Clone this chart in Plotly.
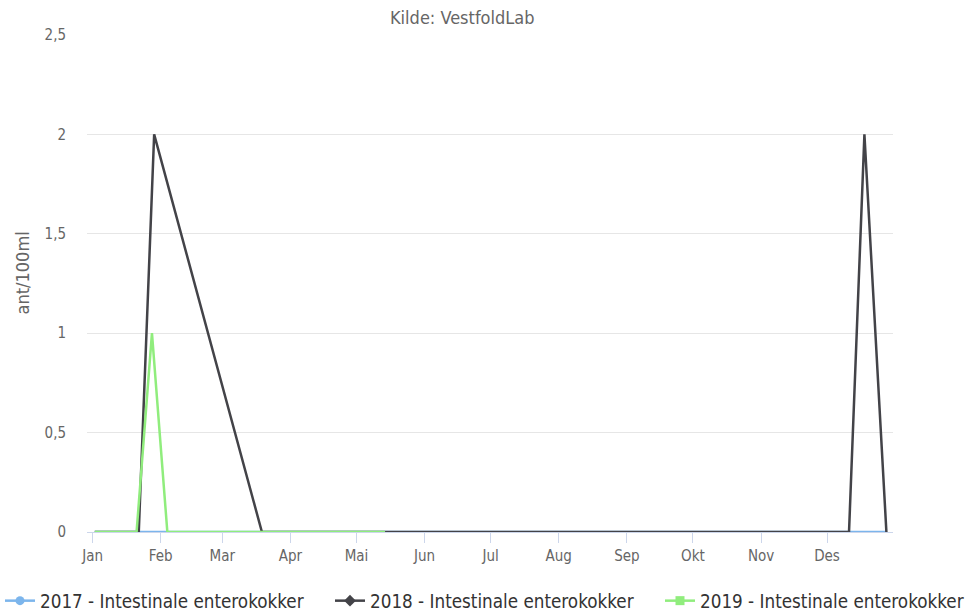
import plotly.graph_objects as go

# ---- data (all years plotted on a common calendar year) ----
dates_2017 = ["2018-01-02", "2018-12-28"]
vals_2017 = [0, 0]

dates_2018 = ["2018-01-02", "2018-01-22", "2018-01-29", "2018-03-19",
              "2018-12-11", "2018-12-18", "2018-12-28"]
vals_2018 = [0, 0, 2, 0, 0, 2, 0]

dates_2019 = ["2018-01-02", "2018-01-21", "2018-01-28", "2018-02-04", "2018-05-14"]
vals_2019 = [0, 0, 1, 0, 0]

series_names = ["2017 - Intestinale enterokokker",
                "2018 - Intestinale enterokokker",
                "2019 - Intestinale enterokokker"]
month_ticks = ["2018-%02d-01" % m for m in range(1, 13)]
month_labels = ["Jan", "Feb", "Mar", "Apr", "Mai", "Jun",
                "Jul", "Aug", "Sep", "Okt", "Nov", "Des"]
y_ticks = [0, 0.5, 1, 1.5, 2, 2.5]

colors = ["#7cb5ec", "#434348", "#90ed7d"]
symbols = ["circle", "diamond", "square"]
FONT = "DejaVu Sans Condensed, DejaVu Sans, sans-serif"

W, H = 971, 615
L, R, T, B = 87, 78, 35, 83
pw, ph = W - L - R, H - T - B

def px_x(p):
    return (p - L) / pw

def px_y(p):
    return (H - B - p) / ph

fig = go.Figure()
data = [(dates_2017, vals_2017), (dates_2018, vals_2018), (dates_2019, vals_2019)]
legends = ["legend", "legend2", "legend3"]
for i, (xs, ys) in enumerate(data):
    fig.add_trace(go.Scatter(
        x=xs, y=ys, mode="lines", name=series_names[i],
        line=dict(color=colors[i], width=2.5),
        legendgroup=series_names[i], showlegend=False,
        hoverinfo="x+y+name"))
for i in range(3):
    fig.add_trace(go.Scatter(
        x=[None], y=[None], mode="lines+markers", name=series_names[i],
        line=dict(color=colors[i], width=2.5),
        marker=dict(color=colors[i], symbol=symbols[i], size=9),
        legendgroup=series_names[i], showlegend=True, legend=legends[i]))

leg_common = dict(orientation="h", xanchor="left", yanchor="middle",
                  xref="container", yref="container",
                  y=1 - 601 / H, bgcolor="rgba(0,0,0,0)",
                  font=dict(family=FONT, size=18.7, color="#333333"))
fig.update_layout(
    width=W, height=H,
    margin=dict(l=L, r=R, t=T, b=B, autoexpand=False),
    paper_bgcolor="white", plot_bgcolor="white",
    separators=", ",
    font=dict(family=FONT, color="#666666"),
    legend=dict(x=0 / W, **leg_common),
    legend2=dict(x=330 / W, **leg_common),
    legend3=dict(x=660 / W, **leg_common),
    xaxis=dict(
        type="date", range=["2017-12-29 11:00", "2018-12-31"],
        tickvals=month_ticks, ticktext=month_labels,
        ticks="outside", ticklen=10, tickcolor="#ccd6eb", tickwidth=1,
        showline=True, linecolor="#ccd6eb", linewidth=1,
        showgrid=False, zeroline=False,
        tickfont=dict(family=FONT, size=15, color="#666666"),
    ),
    yaxis=dict(
        range=[0, 2.5], tickvals=y_ticks,
        showgrid=True, gridcolor="#e6e6e6", gridwidth=1,
        zeroline=False, showline=False, ticks="",
        ticklabelstandoff=20,
        tickfont=dict(family=FONT, size=15, color="#666666"),
    ),
    annotations=[
        dict(text="Kilde: VestfoldLab", xref="paper", yref="paper",
             x=px_x(462.5), y=px_y(17.5), xanchor="center", yanchor="middle",
             showarrow=False, font=dict(family=FONT, size=18, color="#666666")),
        dict(text="ant/100ml", xref="paper", yref="paper",
             x=px_x(21.5), y=px_y(273), xanchor="center", yanchor="middle",
             textangle=-90, showarrow=False,
             font=dict(family=FONT, size=18, color="#666666")),
    ],
)

fig.write_html("out.html", config={"displayModeBar": False},
               post_script="document.body.style.margin='0';")
